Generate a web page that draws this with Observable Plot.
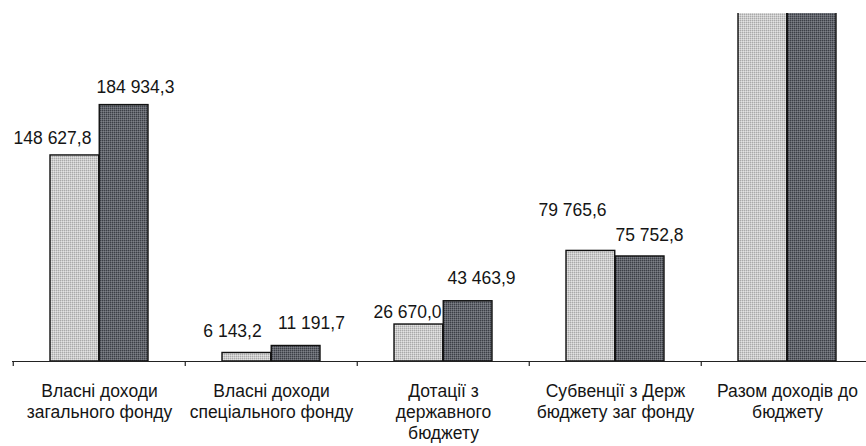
<!DOCTYPE html>
<html><head><meta charset="utf-8">
<script src="https://cdn.jsdelivr.net/npm/d3@7"></script>
<script src="https://cdn.jsdelivr.net/npm/@observablehq/plot@0.6"></script>
<style>
body{margin:0;background:#fff;}
#chart{width:866px;height:446px;overflow:hidden;}
</style>
</head><body><div id="chart"></div>
<script>
const categories = [
  "Власні доходи загального фонду",
  "Власні доходи спеціального фонду",
  "Дотації з державного бюджету",
  "Субвенції з Держ бюджету заг фонду",
  "Разом доходів до бюджету"
];
const tickLabels = [
  "Власні доходи\nзагального фонду",
  "Власні доходи\nспеціального фонду",
  "Дотації з\nдержавного\nбюджету",
  "Субвенції з Держ\nбюджету заг фонду",
  "Разом доходів до\nбюджету"
];
const seriesA = [148627.8, 6143.2, 26670.0, 79765.6, 261206.6];
const seriesB = [184934.3, 11191.7, 43463.9, 75752.8, 315342.7];
const yMax = 251000;

const rows = categories.flatMap((c, i) => [
  {cat: c, s: "A", value: seriesA[i], i},
  {cat: c, s: "B", value: seriesB[i], i}
]);

const fmt = d3.formatLocale({decimal: ",", thousands: "\u00a0", grouping: [3]}).format(",.1f");

// label nudges (style): [dx, dy] relative to band centre / bar top
const nudgeA = [[-47, -17], [-39, -22], [-36, -12], [-43, -41]];
const nudgeB = [[36, -18], [40, -23], [38, -23], [34, -21]];

const labelMarks = [];
rows.forEach(r => {
  if (r.value > yMax) return;
  const n = (r.s === "A" ? nudgeA : nudgeB)[r.i];
  labelMarks.push(Plot.text([r], {
    x: "cat", y: "value", text: d => fmt(d.value),
    dx: n[0], dy: n[1], fill: "#151515", fontSize: 17.5
  }));
});

const chart = Plot.plot({
  width: 866,
  height: 446,
  marginTop: 13,
  marginBottom: 85,
  marginLeft: 12,
  marginRight: -8.5,
  style: {fontFamily: "'Liberation Sans', Arial, sans-serif", fontSize: "17.5px", color: "#151515", background: "#fff"},
  x: {domain: categories, padding: 0, label: null},
  y: {domain: [0, yMax], axis: null},
  marks: [
    Plot.barY(rows.filter(d => d.s === "A"), {
      x: "cat", y: "value", fill: "url(#patLight)", stroke: "#111", strokeWidth: 1.4,
      insetLeft: 37, insetRight: 86.25, clip: true
    }),
    Plot.barY(rows.filter(d => d.s === "B"), {
      x: "cat", y: "value", fill: "url(#patDark)", stroke: "#111", strokeWidth: 1.4,
      insetLeft: 86.25, insetRight: 37, clip: true
    }),
    Plot.ruleY([0], {stroke: "#222", strokeWidth: 1.2}),
    Plot.ruleX(categories, {x: d => d, dx: -86.25, y1: 0, y2: 0, insetBottom: -5, stroke: "#222", strokeWidth: 1.2}),
    Plot.axisX({
      tickSize: 0, tickPadding: 21, lineHeight: 1.2, fontSize: 17.5,
      tickFormat: c => tickLabels[categories.indexOf(c)], label: null, fill: "#151515"
    }),
    ...labelMarks
  ]
});

chart.insertAdjacentHTML("afterbegin",
  `<defs>
    <pattern id="patLight" width="2" height="2" patternUnits="userSpaceOnUse">
      <rect width="2" height="2" fill="#cbcbcb"/>
      <rect width="1" height="1" fill="#a9a9a9"/>
      <rect x="1" y="1" width="1" height="1" fill="#e2e2e2"/>
    </pattern>
    <pattern id="patDark" width="2" height="2" patternUnits="userSpaceOnUse">
      <rect width="2" height="2" fill="#62656c"/>
      <rect width="1" height="1" fill="#3c3f46"/>
      <rect x="1" y="1" width="1" height="1" fill="#7d8087"/>
    </pattern>
  </defs>`);

document.getElementById("chart").appendChild(chart);
</script>
</body></html>
